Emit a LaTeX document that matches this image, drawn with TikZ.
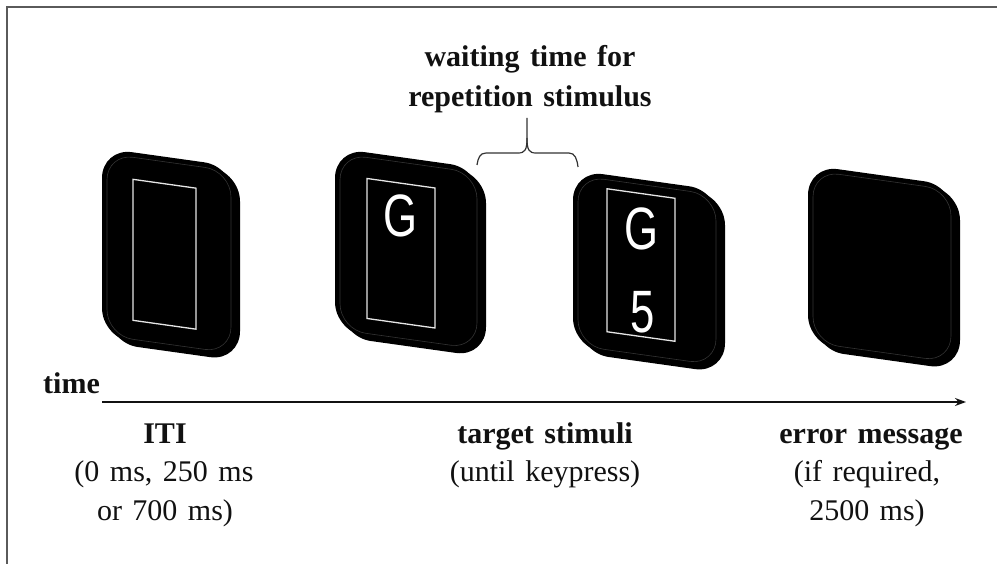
\documentclass[tikz,border=0pt]{standalone}
\usepackage{fontspec}
\setmainfont{Liberation Serif}[WordSpace=1.4]
\newfontfamily\glyphfont{Liberation Sans}
\usetikzlibrary{arrows.meta}
\definecolor{framegray}{HTML}{5A5A5A}
\definecolor{inkcol}{HTML}{111111}
\definecolor{bevel}{HTML}{333333}
\definecolor{innerline}{HTML}{E6E6E6}
\tikzset{
  lbl/.style={inner sep=0pt, anchor=base, text=inkcol, font=\fontsize{30}{36}\selectfont},
  lblb/.style={lbl, font=\fontsize{30}{36}\selectfont\bfseries},
  glyph/.style={inner sep=0pt, text=white, font=\glyphfont\fontsize{46}{50}\selectfont},
  frameline/.style={draw=framegray, line width=2pt},
  bracestyle/.style={draw=bevel, line width=1.2pt},
  innerrect/.style={draw=innerline, line width=1.3pt},
}
% #1 x, #2 y, #3 w, #4 h
\newcommand\monitorbody[4]{%
  \begin{scope}[shift={(#1,#2)}, yslant=-0.14]
    \fill[black, rounded corners=30pt] (6,4) rectangle (#3+6,#4+4);
    \fill[black, rounded corners=30pt] (0,0) rectangle (#3,#4);
    \draw[bevel, line width=0.6pt, rounded corners=26pt] (5,5) rectangle (#3-3,#4-3);
  \end{scope}}
% #1 x, #2 y of monitor, #3 ix, #4 iy, #5 iw, #6 ih
\newcommand\monitorinner[6]{%
  \begin{scope}[shift={(#1,#2)}, yslant=-0.14]
    \draw[innerrect] (#3,#4) rectangle ++(#5,#6);
  \end{scope}}
\begin{document}
\begin{tikzpicture}[x=1pt,y=-1pt]
\useasboundingbox (0,0) rectangle (997,564);
\fill[white] (0,0) rectangle (997,564);
% frame (top and left edges)
\draw[frameline] (7,564) -- (7,7) -- (997,7);

% monitors
\monitorbody{102}{148}{132}{190}
\monitorinner{102}{148}{31}{27}{63}{141}
\monitorbody{335}{148}{145}{184}
\monitorinner{335}{148}{32}{26}{68}{140}
\monitorbody{573}{170}{146}{178}
\monitorinner{573}{170}{34}{14}{68}{143}
\monitorbody{808}{165}{146}{180}

% letters
\node[glyph] (g1) at (400,216) {\scalebox{0.95}[1.3]{G}};
\node[glyph] (g2) at (641,229) {\scalebox{0.95}[1.3]{G}};
\node[glyph] (five) at (643,312) {\scalebox{0.95}[1.3]{5}};

% brace
\coordinate (btop) at (527,118);
\coordinate (bmid) at (527,138);
\coordinate (bleft) at (477,165);
\coordinate (bright) at (578,167);
\draw[bracestyle] (btop) -- (bmid) .. controls (527,150) and (525,153) .. (518,153) -- (486,153) .. controls (480,153) and (478,158) .. (bleft);
\draw[bracestyle] (bmid) .. controls (527,150) and (529,153) .. (536,153) -- (569,153) .. controls (575,153) and (577,159) .. (bright);

% top label
\node[lblb] (w1) at (530,67) {waiting time for};
\node[lblb] (w2) at (530,107) {repetition stimulus};

% time axis
\node[lblb, anchor=base west] (time) at (43,393) {time};
\coordinate (astart) at (102,402);
\coordinate (aend) at (966,402);
\draw[inkcol, line width=1.4pt, -{Stealth[length=11pt,width=8pt]}] (astart) -- (aend);

% bottom labels
\node[lblb] (iti) at (165,443) {ITI};
\node[lbl] (iti2) at (164,481) {(0 ms, 250 ms};
\node[lbl] (iti3) at (165,520) {or 700 ms)};
\node[lblb] (tgt) at (545,443) {target stimuli};
\node[lbl] (tgt2) at (545,481) {(until keypress)};
\node[lblb] (err) at (871,443) {error message};
\node[lbl] (err2) at (867,481) {(if required,};
\node[lbl] (err3) at (867,520) {2500 ms)};
\end{tikzpicture}
\end{document}
